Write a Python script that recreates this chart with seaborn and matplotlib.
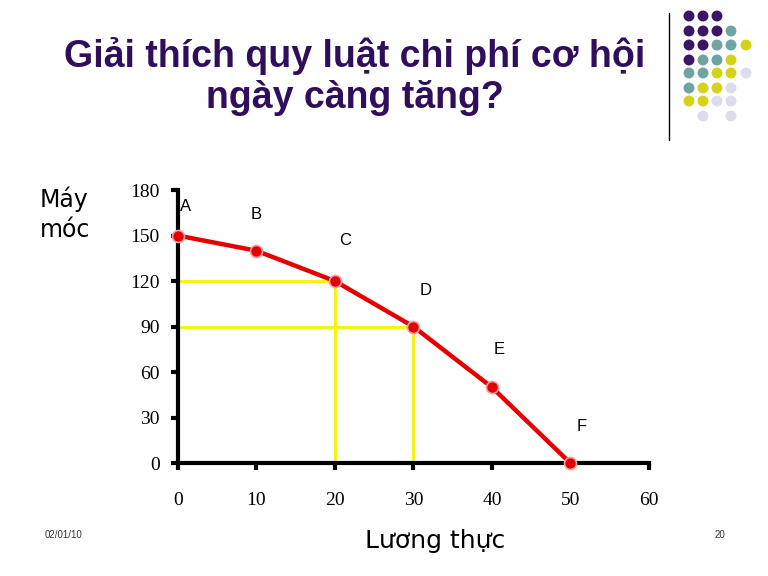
import matplotlib
matplotlib.use("Agg")
import matplotlib.pyplot as plt
import seaborn as sns
import pandas as pd

# Production possibilities data
points = ["A", "B", "C", "D", "E", "F"]
luong_thuc = [0, 10, 20, 30, 40, 50]
may_moc = [150, 140, 120, 90, 50, 0]

x_ticks = [0, 10, 20, 30, 40, 50, 60]
y_ticks = [0, 30, 60, 90, 120, 150, 180]

# guide lines drawn from points C and D
guide_x = [20, 30]
guide_y = [120, 90]

# decorative dot grid (row, column, colour key)
dot_rows = [
    "PPP",
    "PPPT",
    "PPTTY",
    "PTTY",
    "TTYYL",
    "TYYL",
    "YYLL",
    " L L",
]
dot_colors = {"P": "#3d1566", "T": "#70a4a3", "Y": "#d6d21c", "L": "#dcdcef"}

df = pd.DataFrame({"point": points, "luong_thuc": luong_thuc, "may_moc": may_moc})

sns.set_style("white")
fig = plt.figure(figsize=(7.68, 5.76), dpi=100)
ax = fig.add_axes([0.2318, 0.196, 0.613, 0.474])

# yellow guide lines
for gx, gy in zip(guide_x, guide_y):
    ax.plot([0, gx], [gy, gy], color="#f7f200", lw=2, zorder=2)
    ax.plot([gx, gx], [0, gy], color="#f7f200", lw=2, zorder=2)

sns.lineplot(data=df, x="luong_thuc", y="may_moc", color="#e60000", lw=3.2,
             ax=ax, zorder=3)
sns.scatterplot(data=df, x="luong_thuc", y="may_moc", color="#e30000", s=75,
                edgecolor="#f4a0a0", linewidth=1.2, ax=ax, zorder=4, clip_on=False)

# point labels
label_dx = [0.9, 0.0, 1.3, 1.5, 0.9, 1.5]
label_dy = [19, 24, 27, 24, 25, 24]
for p, x, y, dx, dy in zip(points, luong_thuc, may_moc, label_dx, label_dy):
    ax.text(x + dx, y + dy, p, fontsize=12, family="Liberation Sans",
            color="black", ha="center", va="center")

ax.set_xlim(0, 60)
ax.set_ylim(0, 180)
ax.set_xticks(x_ticks)
ax.set_yticks(y_ticks)
ax.set_xticklabels([str(t) for t in x_ticks], family="Liberation Serif", fontsize=14)
ax.set_yticklabels([str(t) for t in y_ticks], family="Liberation Serif", fontsize=14)
ax.tick_params(axis="x", direction="out", length=5, width=3, pad=16, bottom=True,
               colors="black")
ax.tick_params(axis="y", direction="out", length=5, width=3, pad=8, left=True,
               colors="black")
for side in ["top", "right"]:
    ax.spines[side].set_visible(False)
for side in ["left", "bottom"]:
    ax.spines[side].set_linewidth(3)
    ax.spines[side].set_color("black")
ax.set_xlabel("")
ax.set_ylabel("")

# axis titles
fig.text(0.052, 0.628, "Máy\nmóc", fontsize=17, family="DejaVu Sans",
         color="black", ha="left", va="center", linespacing=1.35)
fig.text(0.566, 0.06, "Lương thực", fontsize=18, family="DejaVu Sans",
         color="black", ha="center", va="center")

# slide title
fig.text(0.462, 0.903, "Giải thích quy luật chi phí cơ hội", fontsize=27,
         family="Liberation Sans", weight="bold", color="#2f0f5c",
         ha="center", va="center")
fig.text(0.462, 0.83, "ngày càng tăng?", fontsize=27,
         family="Liberation Sans", weight="bold", color="#2f0f5c",
         ha="center", va="center")

# footer
fig.text(0.058, 0.071, "02/01/10", fontsize=7, family="Liberation Sans",
         color="#333333", ha="left", va="center")
fig.text(0.931, 0.071, "20", fontsize=7, family="Liberation Sans",
         color="#333333", ha="left", va="center")

# decoration: vertical rule and dot grid
deco = fig.add_axes([0, 0, 1, 1], zorder=-1)
deco.set_xlim(0, 768)
deco.set_ylim(576, 0)
deco.axis("off")
deco.plot([669, 669], [13, 140], color="black", lw=1)
col_x = [689, 703, 717, 731, 746]
row_y = [16, 31, 45, 60, 73, 88, 101, 116]
for r, row in enumerate(dot_rows):
    for c, key in enumerate(row):
        if key != " ":
            deco.scatter(col_x[c], row_y[r], s=62, color=dot_colors[key],
                         edgecolor="none")

fig.savefig("out.png", dpi=100)
